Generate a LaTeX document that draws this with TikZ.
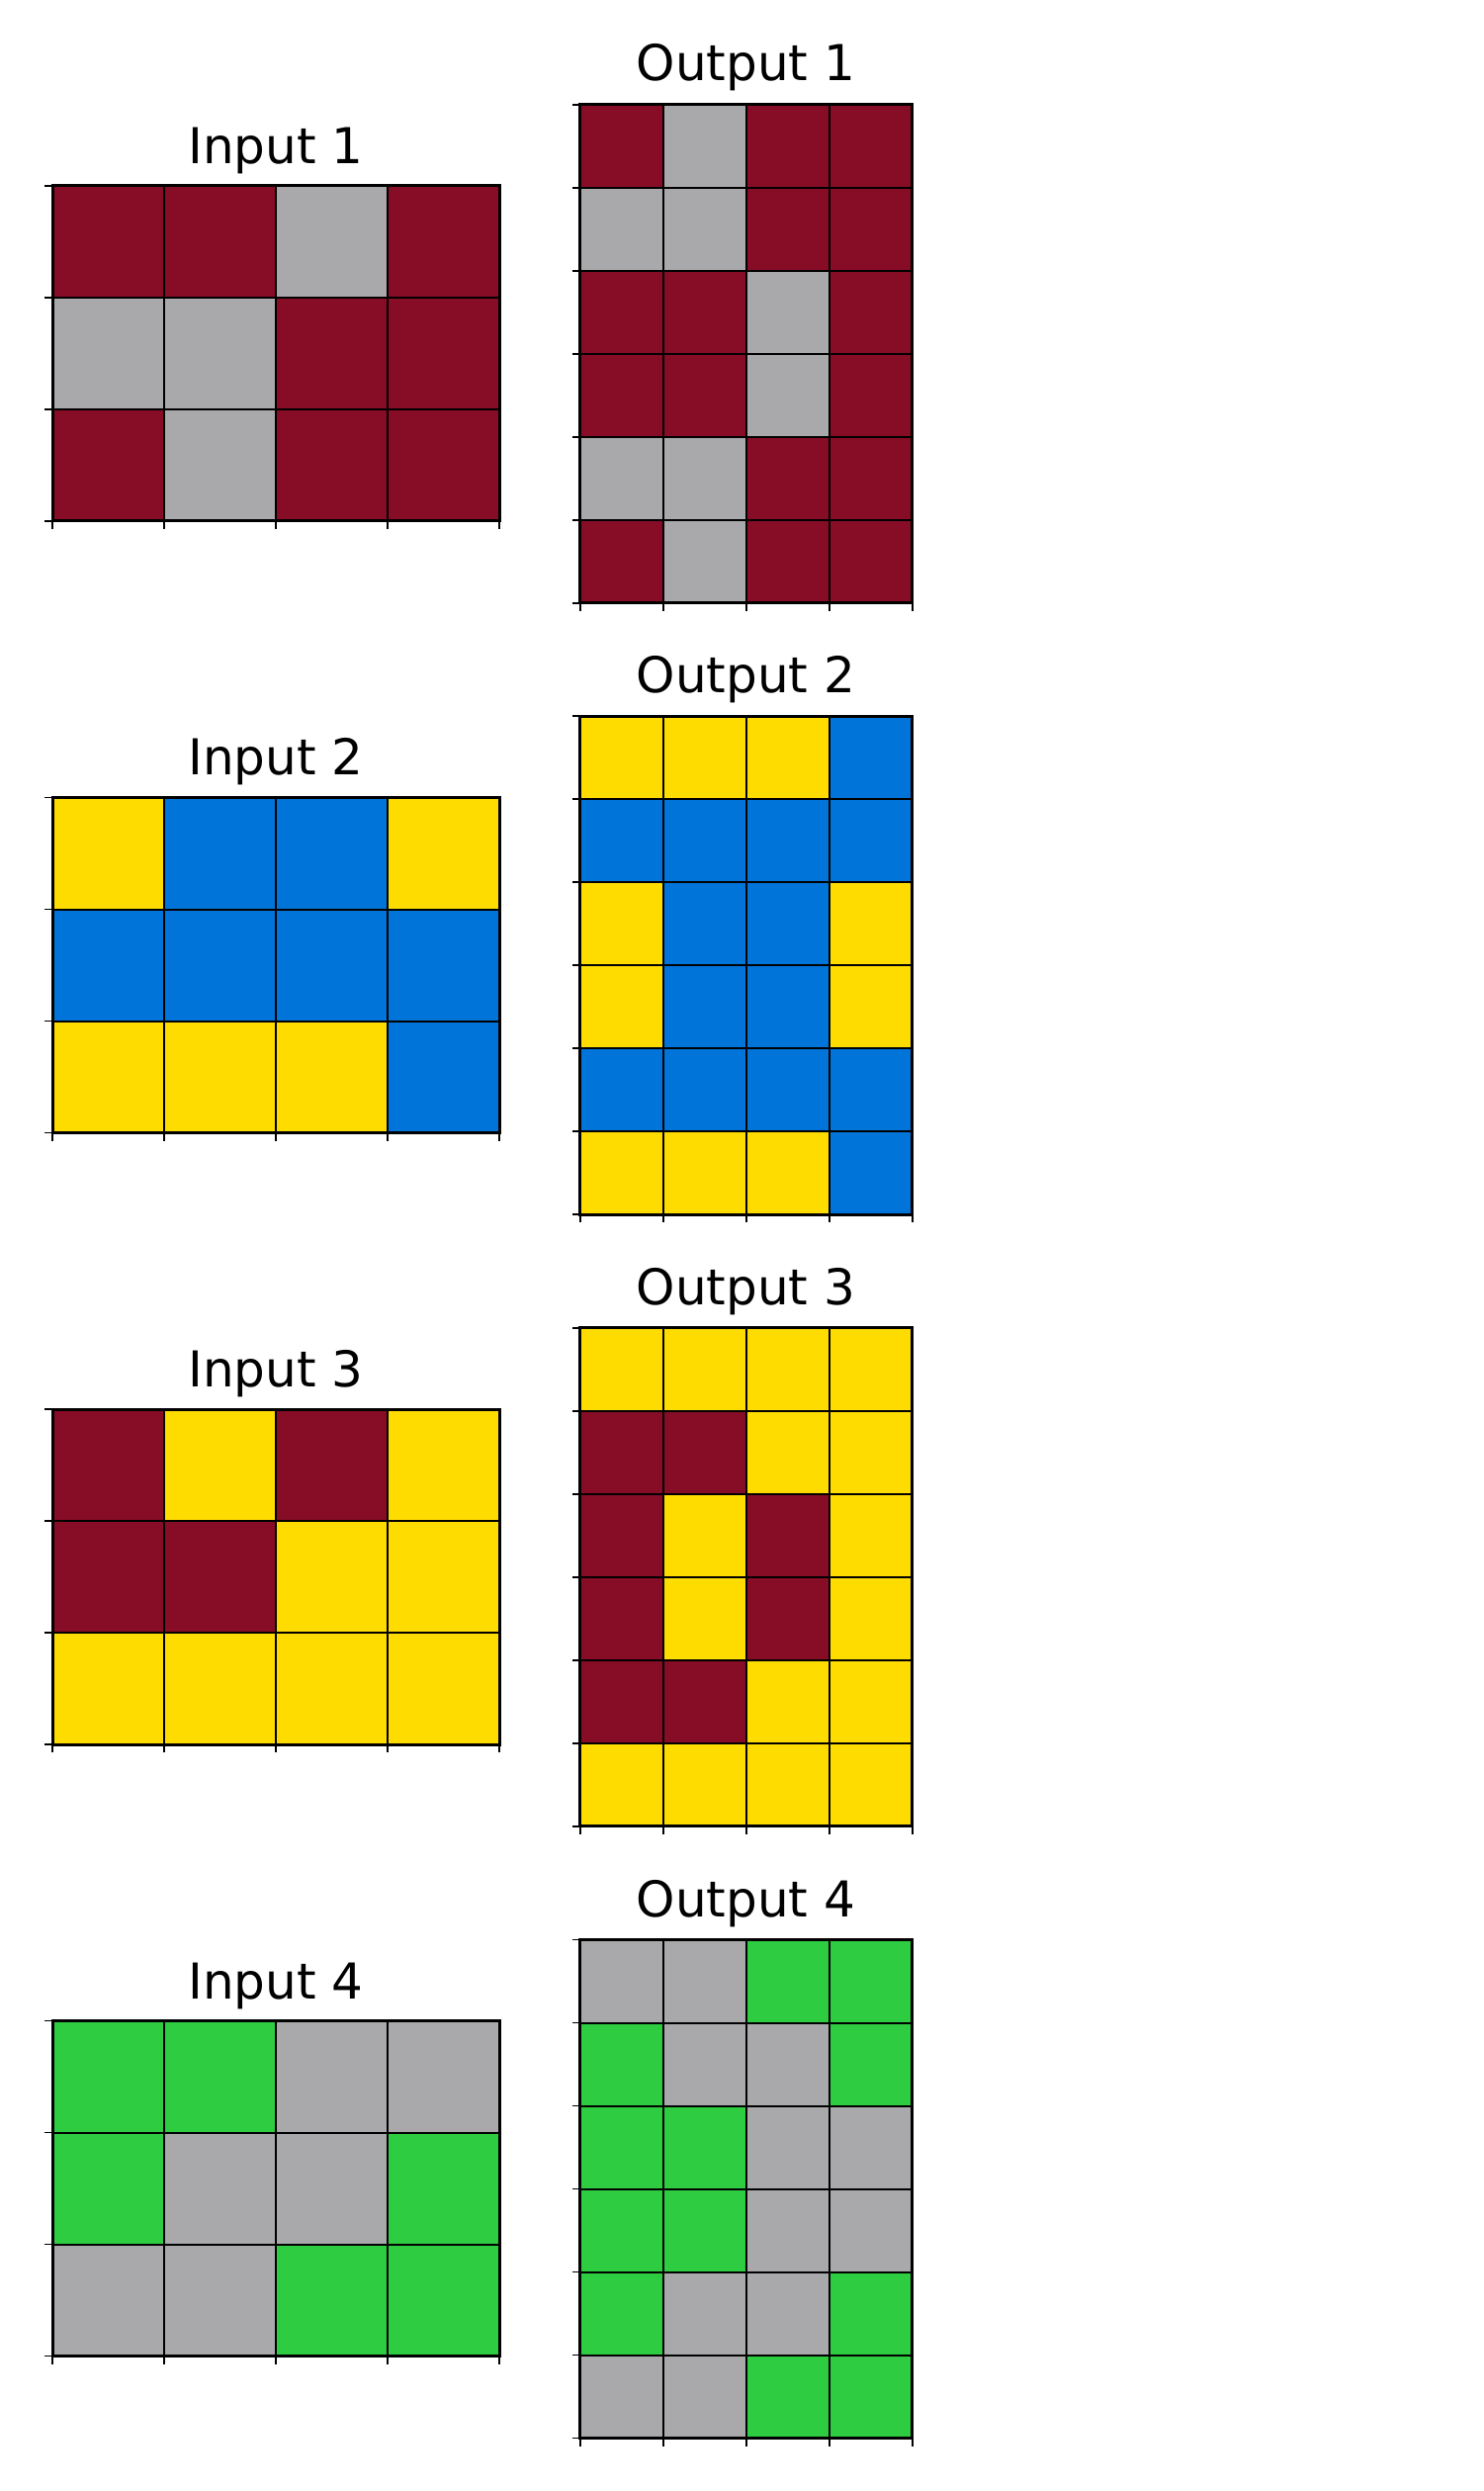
\documentclass[tikz,border=0pt]{standalone}
\usepackage{fontspec}
\setmainfont{DejaVu Sans}
\definecolor{cM}{HTML}{870C25}
\definecolor{cG}{HTML}{A9A8AB}
\definecolor{cY}{HTML}{FFDC00}
\definecolor{cB}{HTML}{0074D9}
\definecolor{cN}{HTML}{2ECC40}
\tikzset{
  gridl/.style={black, line width=1pt},
  spine/.style={black, line width=1.5pt},
  tickl/.style={black, line width=0.9pt},
  ttl/.style={anchor=base, inner sep=0pt, font=\fontsize{25}{30}\selectfont},
}
% #1 x0, #2 y0, #3 cell, #4 ncols, #5 nrows, #6 rows of colours
\newcommand\arcgrid[6]{%
  \foreach \rowlist [count=\r from 0] in {#6} {
    \foreach \cc [count=\k from 0] in \rowlist {
      \fill[\cc] ({#1+\k*#3},{#2+\r*#3}) rectangle ++(#3,#3);
    }
  }
  \foreach \k in {0,...,#4} {
    \draw[gridl] ({#1+\k*#3},#2) -- ++(0,{#5*#3});
    \draw[tickl] ({#1+\k*#3},{#2+#5*#3}) -- ++(0,8);
  }
  \foreach \r in {0,...,#5} {
    \draw[gridl] (#1,{#2+\r*#3}) -- ++({#4*#3},0);
    \draw[tickl] (#1,{#2+\r*#3}) -- ++(-8,0);
  }
  \draw[spine] (#1,#2) rectangle ++({#4*#3},{#5*#3});
}
\begin{document}
\begin{tikzpicture}[x=0.5pt, y=-0.5pt]
\fill[white] (0,0) rectangle (1500,2519);
\useasboundingbox (0,0) rectangle (1500,2519);

% Row 1
\arcgrid{53.3}{188}{113}{4}{3}{{cM,cM,cG,cM},{cG,cG,cM,cM},{cM,cG,cM,cM}}
\node[ttl] (in1) at (279,165.5) {Input 1};
\arcgrid{586.7}{105.7}{84}{4}{6}{{cM,cG,cM,cM},{cG,cG,cM,cM},{cM,cM,cG,cM},{cM,cM,cG,cM},{cG,cG,cM,cM},{cM,cG,cM,cM}}
\node[ttl] (out1) at (754.5,82) {Output 1};

% Row 2
\arcgrid{53.3}{806.5}{113}{4}{3}{{cY,cB,cB,cY},{cB,cB,cB,cB},{cY,cY,cY,cB}}
\node[ttl] (in2) at (279,783.5) {Input 2};
\arcgrid{586.7}{724.2}{84}{4}{6}{{cY,cY,cY,cB},{cB,cB,cB,cB},{cY,cB,cB,cY},{cY,cB,cB,cY},{cB,cB,cB,cB},{cY,cY,cY,cB}}
\node[ttl] (out2) at (754.5,700.5) {Output 2};

% Row 3
\arcgrid{53.3}{1425}{113}{4}{3}{{cM,cY,cM,cY},{cM,cM,cY,cY},{cY,cY,cY,cY}}
\node[ttl] (in3) at (279,1402) {Input 3};
\arcgrid{586.7}{1342.7}{84}{4}{6}{{cY,cY,cY,cY},{cM,cM,cY,cY},{cM,cY,cM,cY},{cM,cY,cM,cY},{cM,cM,cY,cY},{cY,cY,cY,cY}}
\node[ttl] (out3) at (754.5,1319) {Output 3};

% Row 4
\arcgrid{53.3}{2043.5}{113}{4}{3}{{cN,cN,cG,cG},{cN,cG,cG,cN},{cG,cG,cN,cN}}
\node[ttl] (in4) at (279,2021) {Input 4};
\arcgrid{586.7}{1961.5}{84}{4}{6}{{cG,cG,cN,cN},{cN,cG,cG,cN},{cN,cN,cG,cG},{cN,cN,cG,cG},{cN,cG,cG,cN},{cG,cG,cN,cN}}
\node[ttl] (out4) at (754.5,1938) {Output 4};
\end{tikzpicture}
\end{document}
